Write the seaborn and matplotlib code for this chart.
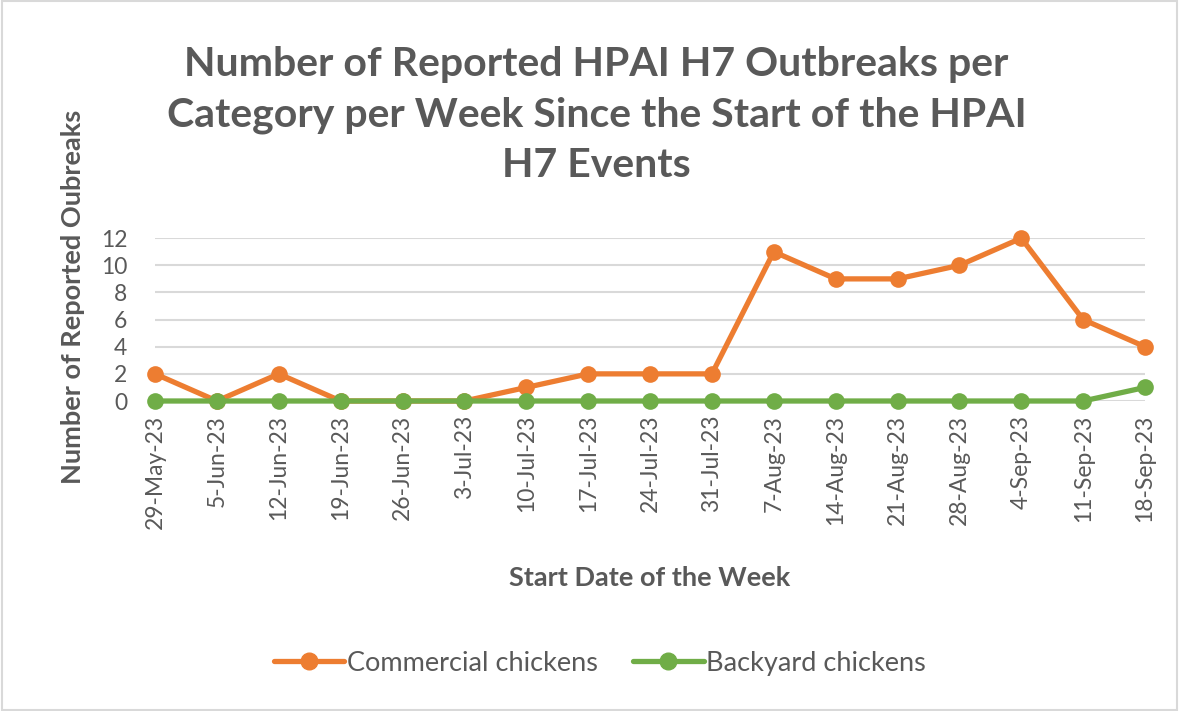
import pandas as pd
import matplotlib.pyplot as plt
import seaborn as sns

# Weekly counts
weeks = ["29-May-23", "5-Jun-23", "12-Jun-23", "19-Jun-23", "26-Jun-23", "3-Jul-23",
         "10-Jul-23", "17-Jul-23", "24-Jul-23", "31-Jul-23", "7-Aug-23", "14-Aug-23",
         "21-Aug-23", "28-Aug-23", "4-Sep-23", "11-Sep-23", "18-Sep-23"]
commercial = [2, 0, 2, 0, 0, 0, 1, 2, 2, 2, 11, 9, 9, 10, 12, 6, 4]
backyard = [0, 0, 0, 0, 0, 0, 0, 0, 0, 0, 0, 0, 0, 0, 0, 0, 1]
series_names = ["Commercial chickens", "Backyard chickens"]
y_ticks = [0, 2, 4, 6, 8, 10, 12]

df = pd.DataFrame({"Week": weeks, series_names[0]: commercial, series_names[1]: backyard})
df_long = df.melt(id_vars="Week", var_name="Category", value_name="Outbreaks")

sns.set_style("white")
plt.rcParams['font.family'] = ['Lato', 'DejaVu Sans']
text_col = "#595959"
colors = ["#ED7D31", "#70AD47"]

fig = plt.figure(figsize=(11.79, 7.11), dpi=100)
ax = fig.add_axes([0.1315, 0.436, 0.8397, 0.229])

sns.lineplot(data=df_long, x="Week", y="Outbreaks", hue="Category",
             hue_order=series_names, palette=colors,
             marker="o", markersize=12, markeredgewidth=0, linewidth=3.8,
             sort=False, ax=ax, legend=False, clip_on=False)

ax.set_ylim(0, 12)
ax.set_xlim(0, len(weeks) - 1)
ax.set_yticks(y_ticks)
ax.set_xticks(range(len(weeks)))
ax.set_xticklabels(weeks, rotation=90)
ax.tick_params(axis="both", labelsize=16.5, colors=text_col, length=0)
ax.tick_params(axis="y", pad=20)
ax.tick_params(axis="x", pad=10)
ax.grid(axis="y", color="#D9D9D9", linewidth=1.5)
for s in ax.spines.values():
    s.set_visible(False)
ax.set_axisbelow(True)

ax.set_xlabel("")
ax.set_ylabel("")
fig.text(0.062, 0.582, "Number of Reported Oubreaks", rotation=90, ha="center", va="center",
         fontsize=19.5, fontweight="bold", color=text_col)
fig.text(0.551, 0.187, "Start Date of the Week", ha="center", va="center",
         fontsize=19.5, fontweight="bold", color=text_col)

fig.text(0.506, 0.838, "Number of Reported HPAI H7 Outbreaks per\n"
         "Category per Week Since the Start of the HPAI\nH7 Events",
         ha="center", va="center", fontsize=29.5, fontweight="bold", color=text_col,
         linespacing=1.45)

handles = [plt.Line2D([], [], color=c, marker="o", markersize=12, linewidth=3.8)
           for c in colors]
fig.legend(handles, series_names, loc="center", bbox_to_anchor=(0.509, 0.067), ncol=2,
           frameon=False, fontsize=19.5, labelcolor=text_col, handlelength=2.6,
           handletextpad=0.1, columnspacing=1.3)

fig.patches.append(plt.Rectangle((0.002, 0.002), 0.996, 0.996, transform=fig.transFigure,
                                 fill=False, edgecolor="#D9D9D9", linewidth=1.5))

plt.savefig("out.png", dpi=100, facecolor="white")
plt.close()
